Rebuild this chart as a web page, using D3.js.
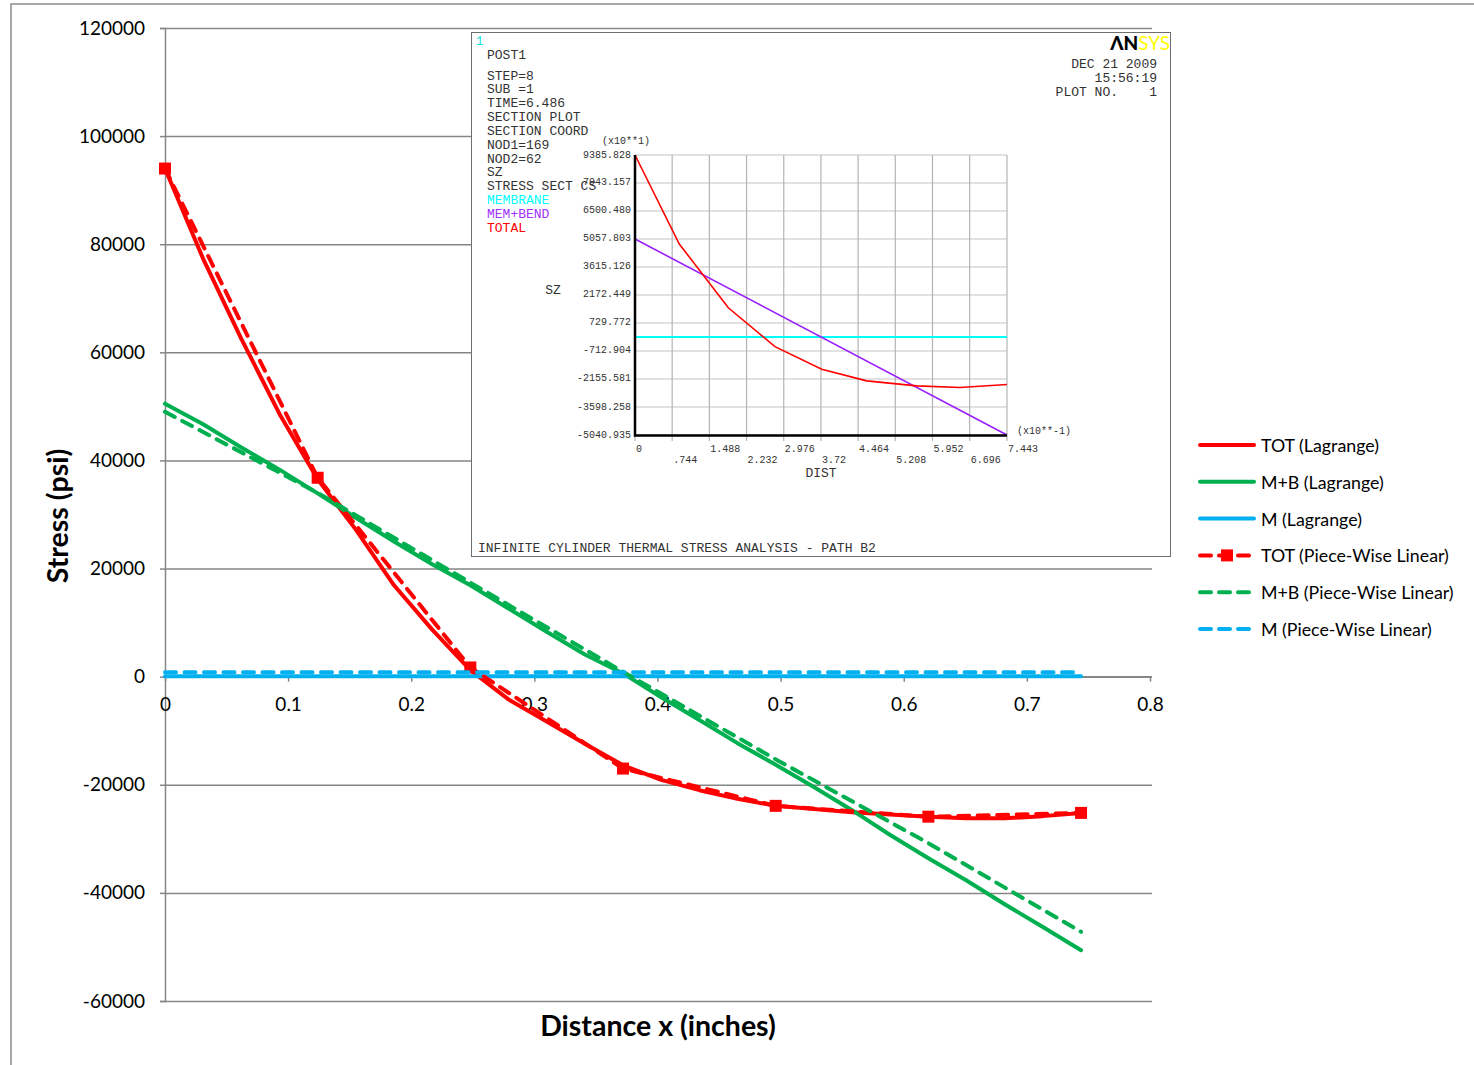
<!DOCTYPE html>
<html>
<head>
<meta charset="utf-8">
<script src="https://cdn.jsdelivr.net/npm/d3@7"></script>
<style>
    body { margin: 0; background: #fff; }
    svg { display: block; }
</style>
</head>
<body>
<div id="chart"></div>
<script>
// Lagrange series, sampled along the path (inches)
const xLag = [0, 0.031, 0.062, 0.093, 0.124, 0.155, 0.186, 0.217, 0.248, 0.279, 0.310, 0.341, 0.372,
    0.403, 0.434, 0.465, 0.496, 0.527, 0.558, 0.589, 0.620, 0.651, 0.682, 0.713, 0.744];
const totLag = [94000, 77300, 62500, 48600, 36500, 27200, 16900, 8700, 1200, -4200, -8300, -12400, -16400,
    -19100, -21000, -22600, -23900, -24500, -25100, -25500, -25900, -26200, -26200, -25800, -25200];
const mbLag = [50500, 46700, 42400, 38300, 33900, 29400, 25000, 20800, 16900, 12600, 8300, 4100, 600,
    -3800, -8000, -12300, -16300, -20400, -24700, -29300, -33600, -37700, -42100, -46300, -50600];
const mLag = [84, 84, 84, 84, 84, 84, 84, 84, 84, 84, 84, 84, 84,
    84, 84, 84, 84, 84, 84, 84, 84, 84, 84, 84, 84];

// Piece-wise linear series
const xPw = [0, 0.124, 0.248, 0.372, 0.496, 0.620, 0.744];
const totPw = [94000, 36800, 1700, -17000, -23900, -25900, -25200];
const mbPw = [49000, 34000, 17400, 900, -15300, -30800, -47200];
const mPw = [800, 800, 800, 800, 800, 800, 800];

const yTicks = [120000, 100000, 80000, 60000, 40000, 20000, 0, -20000, -40000, -60000];
const xTicks = [0, 0.1, 0.2, 0.3, 0.4, 0.5, 0.6, 0.7, 0.8];

const seriesNames = ['TOT (Lagrange)', 'M+B (Lagrange)', 'M (Lagrange)',
    'TOT (Piece-Wise Linear)', 'M+B (Piece-Wise Linear)', 'M (Piece-Wise Linear)'];

// ANSYS section plot shown as inset (units as on its axes)
const insetDist = [0, 0.886, 1.867, 2.80, 3.736, 4.636, 5.636, 6.5, 7.443];
const insetTotal = [9385.828, 4801, 1515, -487, -1652, -2253, -2510, -2592, -2438];
const insetLineDist = [0, 7.443];
const insetMemBend = [5057.803, -5040.935];
const insetMembrane = [8.4, 8.4];
const insetYTicks = [9385.828, 7943.157, 6500.480, 5057.803, 3615.126, 2172.449, 729.772,
    -712.904, -2155.581, -3598.258, -5040.935];
const insetYLabels = ['9385.828', '7943.157', '6500.480', '5057.803', '3615.126', '2172.449', '729.772',
    '-712.904', '-2155.581', '-3598.258', '-5040.935'];
const insetXTicks = [0, 0.744, 1.488, 2.232, 2.976, 3.72, 4.464, 5.208, 5.952, 6.696, 7.443];
const insetXLabels = ['0', '.744', '1.488', '2.232', '2.976', '3.72', '4.464', '5.208', '5.952', '6.696', '7.443'];
const insetInfo = ['STEP=8', 'SUB =1', 'TIME=6.486', 'SECTION PLOT', 'SECTION COORD', 'NOD1=169', 'NOD2=62',
    'SZ', 'STRESS SECT CS'];
const insetKeys = ['MEMBRANE', 'MEM+BEND', 'TOTAL'];
const insetStamp = ['DEC 21 2009', '15:56:19', 'PLOT NO.    1'];

const RED = '#ff0000';
const GREEN = '#00b050';
const BLUE = '#00b0f0';
const GRID = '#868686';
const DASH = '11,8.5';
const SANS = 'Lato, "Open Sans", sans-serif';
const MONO = '"Liberation Mono", "DejaVu Sans Mono", monospace';

// plain integers with an ascii hyphen for negatives, like Excel
const fmtInt = (d) => String(Math.round(d));

function mainChart(svg) {
    const x = d3.scaleLinear().domain([0, 0.8]).range([165, 1150]);
    const y = d3.scaleLinear().domain([-60000, 120000]).range([1001, 28]);

    // frame round the whole chart
    svg.append('rect').attr('x', 11).attr('y', 4).attr('width', 1500).attr('height', 1100)
        .attr('fill', 'none').attr('stroke', '#8c8c8c').attr('stroke-width', 1.5);

    // horizontal gridlines
    const grid = svg.append('g').attr('transform', 'translate(165,0)')
        .call(d3.axisRight(y).tickValues(yTicks).tickSize(987).tickFormat(''));
    grid.select('.domain').remove();
    grid.selectAll('line').attr('stroke', GRID).attr('stroke-width', 1.5);

    // y axis
    const yAxis = svg.append('g').attr('transform', 'translate(165,0)')
        .call(d3.axisLeft(y).tickValues(yTicks).tickSize(5).tickPadding(15).tickFormat(fmtInt));
    yAxis.select('.domain').attr('stroke', GRID).attr('stroke-width', 1.5);
    yAxis.selectAll('line').attr('stroke', GRID).attr('stroke-width', 1.5);
    yAxis.selectAll('text').attr('font-family', SANS).attr('font-size', 19).attr('fill', '#000');

    // x axis along zero
    const xAxis = svg.append('g').attr('transform', `translate(0,${y(0)})`)
        .call(d3.axisBottom(x).tickValues(xTicks).tickSize(5).tickPadding(16).tickFormat(d3.format('')));
    xAxis.select('.domain').remove();
    xAxis.append('line').attr('x1', 165).attr('x2', 1152).attr('stroke', GRID).attr('stroke-width', 1.5);
    xAxis.selectAll('.tick line').attr('stroke', GRID).attr('stroke-width', 1.5);
    xAxis.selectAll('text').attr('font-family', SANS).attr('font-size', 19).attr('fill', '#000');

    // axis titles
    svg.append('text').attr('transform', 'translate(57,516) rotate(-90)').attr('text-anchor', 'middle')
        .attr('dominant-baseline', 'central').attr('font-family', SANS).attr('font-weight', 'bold')
        .attr('font-size', 28.5).text('Stress (psi)');
    svg.append('text').attr('x', 658).attr('y', 1025).attr('text-anchor', 'middle')
        .attr('dominant-baseline', 'central').attr('font-family', SANS).attr('font-weight', 'bold')
        .attr('font-size', 28.5).text('Distance x (inches)');

    const line = d3.line().x((d) => x(d[0])).y((d) => y(d[1]));
    const series = [
        { xs: xLag, ys: totLag, color: RED, dash: null },
        { xs: xLag, ys: mbLag, color: GREEN, dash: null },
        { xs: xLag, ys: mLag, color: BLUE, dash: null },
        { xs: xPw, ys: totPw, color: RED, dash: DASH, marker: true },
        { xs: xPw, ys: mbPw, color: GREEN, dash: DASH },
        { xs: xPw, ys: mPw, color: BLUE, dash: DASH }
    ];

    for (let s of series) {
        const pts = s.xs.map((v, i) => [v, s.ys[i]]);
        svg.append('path').datum(pts).attr('d', line).attr('fill', 'none')
            .attr('stroke', s.color).attr('stroke-width', 4)
            .attr('stroke-linejoin', 'round').attr('stroke-linecap', 'round')
            .attr('stroke-dasharray', s.dash);
        if (s.marker) {
            svg.append('g').selectAll('rect').data(pts).enter().append('rect')
                .attr('x', (d) => x(d[0]) - 6).attr('y', (d) => y(d[1]) - 6)
                .attr('width', 12).attr('height', 12).attr('fill', s.color);
        }
    }

    // legend
    const legend = svg.append('g').attr('transform', 'translate(1199,445)');
    series.forEach((s, i) => {
        const row = legend.append('g').attr('transform', `translate(0,${i * 36.8})`);
        row.append('line').attr('x1', 1).attr('x2', 55).attr('stroke', s.color).attr('stroke-width', 4)
            .attr('stroke-linecap', 'round').attr('stroke-dasharray', s.dash ? '11,8' : null);
        if (s.marker) {
            row.append('rect').attr('x', 22).attr('y', -6).attr('width', 12).attr('height', 12).attr('fill', s.color);
        }
        row.append('text').attr('x', 62).attr('dominant-baseline', 'central').attr('font-family', SANS)
            .attr('font-size', 17.8).text(seriesNames[i]);
    });
}

function insetPlot(svg) {
    const g = svg.append('g');
    g.append('rect').attr('x', 471.5).attr('y', 32.5).attr('width', 699).attr('height', 524)
        .attr('fill', '#fff').attr('stroke', '#6e6e6e').attr('stroke-width', 1);

    const xi = d3.scaleLinear().domain([0, 7.443]).range([635, 1007]);
    const yi = d3.scaleLinear().domain([-5040.935, 9385.828]).range([435, 155]);

    // grid
    g.append('g').selectAll('line').data(insetYTicks).enter().append('line')
        .attr('x1', 635).attr('x2', 1007).attr('y1', (d) => yi(d)).attr('y2', (d) => yi(d))
        .attr('stroke', '#c4c4c4').attr('stroke-width', 1.2);
    g.append('g').selectAll('line').data(insetXTicks).enter().append('line')
        .attr('x1', (d) => xi(d)).attr('x2', (d) => xi(d)).attr('y1', 155).attr('y2', 441)
        .attr('stroke', '#b4b4b4').attr('stroke-width', 1.2);

    const ln = d3.line().x((d) => xi(d[0])).y((d) => yi(d[1]));
    g.append('path').datum(insetLineDist.map((v, i) => [v, insetMembrane[i]])).attr('d', ln)
        .attr('fill', 'none').attr('stroke', '#00ffff').attr('stroke-width', 2);
    g.append('path').datum(insetLineDist.map((v, i) => [v, insetMemBend[i]])).attr('d', ln)
        .attr('fill', 'none').attr('stroke', '#9a1fff').attr('stroke-width', 1.6);
    g.append('path').datum(insetDist.map((v, i) => [v, insetTotal[i]])).attr('d', ln)
        .attr('fill', 'none').attr('stroke', '#ff0000').attr('stroke-width', 1.6);

    // axes
    g.append('line').attr('x1', 635).attr('x2', 635).attr('y1', 155).attr('y2', 436.5)
        .attr('stroke', '#000').attr('stroke-width', 2.5);
    g.append('line').attr('x1', 634).attr('x2', 1007).attr('y1', 435.5).attr('y2', 435.5)
        .attr('stroke', '#000').attr('stroke-width', 2.5);

    const mono = (sel, size, color) => sel.attr('font-family', MONO).attr('font-size', size)
        .attr('fill', color || '#333').attr('dominant-baseline', 'central');

    mono(g.append('g').selectAll('text').data(insetYTicks).enter().append('text')
        .attr('x', 631).attr('y', (d) => yi(d)).attr('text-anchor', 'end')
        .text((d, i) => insetYLabels[i]), 10);
    mono(g.append('g').selectAll('text').data(insetXTicks).enter().append('text')
        .attr('x', (d) => xi(d) + 1).attr('y', (d, i) => (i % 2 ? 460 : 449))
        .text((d, i) => insetXLabels[i]), 10);

    mono(g.append('text').attr('x', 602).attr('y', 141).text('(x10**1)'), 10);
    mono(g.append('text').attr('x', 1017).attr('y', 431).text('(x10**-1)'), 10);
    mono(g.append('text').attr('x', 821).attr('y', 473).attr('text-anchor', 'middle').text('DIST'), 13);
    mono(g.append('text').attr('x', 553).attr('y', 290).attr('text-anchor', 'middle').text('SZ'), 13);

    mono(g.append('text').attr('x', 476).attr('y', 42).text('1'), 12, '#00e0e0');
    mono(g.append('text').attr('x', 487).attr('y', 55).text('POST1'), 13);
    mono(g.append('g').selectAll('text').data(insetInfo).enter().append('text')
        .attr('x', 487).attr('y', (d, i) => 76 + i * 13.85).text((d) => d), 13);
    const keyColors = ['#00ffff', '#a030ff', '#ff0000'];
    g.append('g').selectAll('text').data(insetKeys).enter().append('text')
        .attr('x', 487).attr('y', (d, i) => 200.5 + i * 13.85).text((d) => d)
        .attr('font-family', MONO).attr('font-size', 13).attr('dominant-baseline', 'central')
        .attr('fill', (d, i) => keyColors[i]);
    mono(g.append('g').selectAll('text').data(insetStamp).enter().append('text')
        .attr('x', 1157).attr('y', (d, i) => 64 + i * 14).attr('text-anchor', 'end')
        .attr('xml:space', 'preserve').style('white-space', 'pre').text((d) => d), 13);
    mono(g.append('text').attr('x', 478).attr('y', 548)
        .text('INFINITE CYLINDER THERMAL STRESS ANALYSIS - PATH B2'), 13);

    // ANSYS logo
    const logo = g.append('text').attr('x', 1170).attr('y', 42).attr('text-anchor', 'end')
        .attr('dominant-baseline', 'central').attr('font-family', SANS).attr('font-size', 19);
    logo.append('tspan').attr('font-weight', 900).attr('fill', '#000').text('ΛN');
    logo.append('tspan').attr('fill', '#ffff00').text('SYS');
}

window.addEventListener('DOMContentLoaded', () => {
    const svg = d3.select('#chart').append('svg').attr('width', 1474).attr('height', 1065);
    mainChart(svg);
    insetPlot(svg);
});
</script>
</body>
</html>
